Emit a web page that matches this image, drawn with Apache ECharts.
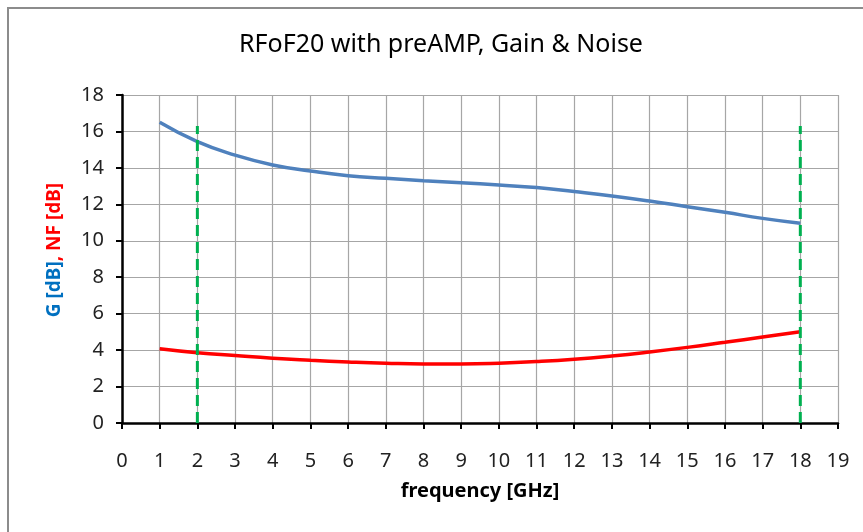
<!DOCTYPE html>
<html>
<head>
<meta charset="utf-8">
<script src="https://cdn.jsdelivr.net/npm/echarts@6/dist/echarts.min.js"></script>
<style>
  html, body { margin: 0; padding: 0; background: #fff; }
  #main { width: 863px; height: 532px; }
</style>
</head>
<body>
<div id="main"></div>
<script>
// 频率点 (GHz)
var freq = [1, 2, 3, 4, 5, 6, 7, 8, 9, 10, 11, 12, 13, 14, 15, 16, 17, 18];
// 增益 G [dB]
var gain = [16.5, 15.44, 14.7, 14.16, 13.83, 13.57, 13.43, 13.3, 13.19, 13.06, 12.92, 12.7, 12.46, 12.18, 11.87, 11.56, 11.23, 10.96];
// 噪声系数 NF [dB]
var noise = [4.08, 3.86, 3.7, 3.55, 3.44, 3.35, 3.28, 3.24, 3.24, 3.28, 3.37, 3.5, 3.68, 3.9, 4.15, 4.43, 4.72, 5.01];
// 绿色虚线标记 (频带边界)
var bandEdges = [2, 18];
var bandTop = 16.3;

var font = 'Noto Sans, sans-serif';

function pairs(xs, ys) {
    var out = [];
    for (var i = 0; i < xs.length; i++) out.push([xs[i], ys[i]]);
    return out;
}

var series = [{
    name: 'G',
    type: 'line',
    data: pairs(freq, gain),
    smooth: true,
    showSymbol: false,
    lineStyle: { color: '#4f81bd', width: 3.5 },
    z: 3
}, {
    name: 'NF',
    type: 'line',
    data: pairs(freq, noise),
    smooth: true,
    showSymbol: false,
    lineStyle: { color: '#ff0000', width: 3.5 },
    z: 3
}];
bandEdges.forEach(function (f) {
    series.push({
        type: 'line',
        data: [[f, 0], [f, bandTop]],
        showSymbol: false,
        lineStyle: { color: '#00b050', width: 3, type: [11, 6] },
        z: 4
    });
});

var chart = echarts.init(document.getElementById('main'));
chart.setOption({
    animation: false,
    backgroundColor: '#fff',
    graphic: [{
        type: 'rect',
        shape: { x: 8, y: 8, width: 900, height: 600 },
        style: { fill: 'none', stroke: '#8c8c8c', lineWidth: 2 },
        z: -1
    }],
    title: {
        text: 'RFoF20 with preAMP, Gain & Noise',
        left: 436,
        textAlign: 'center',
        top: 27,
        textStyle: { fontFamily: font, fontSize: 25, fontWeight: 'normal', color: '#000' }
    },
    grid: { left: 122, right: 25, top: 95, bottom: 109 },
    xAxis: {
        type: 'value',
        min: 0,
        max: 19,
        interval: 1,
        name: 'frequency [GHz]',
        nameLocation: 'middle',
        nameGap: 58,
        nameTextStyle: { fontFamily: font, fontSize: 20, fontWeight: 'bold', color: '#000' },
        axisLine: { onZero: false, lineStyle: { color: '#000', width: 2.5 } },
        axisTick: { show: true, length: 6, lineStyle: { color: '#000', width: 2 } },
        axisLabel: { margin: 28, fontFamily: font, fontSize: 20, color: '#222' },
        splitLine: { show: true, lineStyle: { color: '#a6a6a6', width: 1.2 } }
    },
    yAxis: {
        type: 'value',
        min: 0,
        max: 18,
        interval: 2,
        name: '{g|G [dB]}{n|, NF [dB]}',
        nameLocation: 'middle',
        nameGap: 58,
        nameRotate: 90,
        nameTextStyle: {
            padding: [0, 0, 0, 18],
            rich: {
                g: { fontFamily: font, fontSize: 19, fontWeight: 'bold', color: '#0070c0' },
                n: { fontFamily: font, fontSize: 19, fontWeight: 'bold', color: '#ff0000' }
            }
        },
        axisLine: { show: true, lineStyle: { color: '#000', width: 2.5 } },
        axisTick: { show: true, length: 6, lineStyle: { color: '#000', width: 2 } },
        axisLabel: { margin: 18, fontFamily: font, fontSize: 20, color: '#222' },
        splitLine: { show: true, lineStyle: { color: '#a6a6a6', width: 1.2 } }
    },
    series: series
});
</script>
</body>
</html>
